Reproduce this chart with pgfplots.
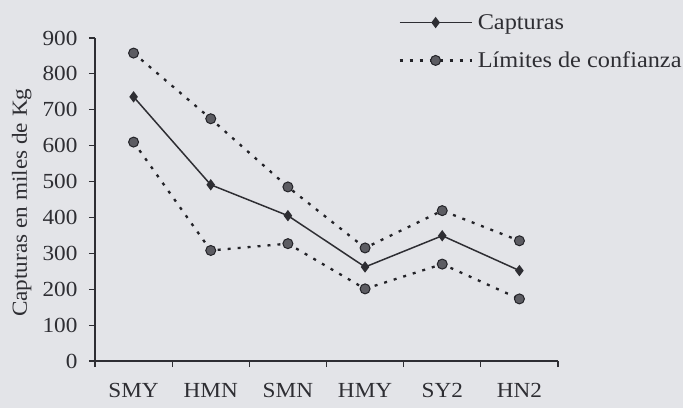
\documentclass[border=0pt]{standalone}
\usepackage{pgfplots}
\pgfplotsset{compat=1.18}
\usepackage{fontspec}
\setmainfont{Liberation Serif}[FakeStretch=1.08]
\definecolor{bg}{HTML}{E3E4E8}
\definecolor{ink}{HTML}{2E2E33}
\definecolor{dotc}{HTML}{232328}
\definecolor{circ}{HTML}{5C5C62}
\newcommand{\ff}{\fontsize{21.5}{25}\selectfont}
\newcommand{\fl}{\fontsize{22.5}{26}\selectfont}
\begin{document}
\begin{tikzpicture}[x=1pt,y=1pt]
\path[use as bounding box, fill=bg] (0,0) rectangle (683,408);
\begin{axis}[
  at={(95pt,47pt)}, anchor=south west,
  scale only axis, width=463pt, height=323pt,
  xmin=-0.5, xmax=5.5, ymin=0, ymax=900,
  axis lines=left,
  axis line style={-, ink, line width=1.2pt},
  tick style={ink, line width=1.1pt},
  tick align=outside, major tick length=6pt,
  ytick={0,100,...,900},
  xtick={-0.5,0.5,...,5.5}, xticklabels={},
  extra x ticks={0,1,2,3,4,5},
  extra x tick labels={SMY,HMN,SMN,HMY,SY2,HN2},
  extra x tick style={major tick length=0pt, tick style={draw=none}},
  /pgf/number format/assume math mode=true,
  tick label style={font=\ff, text=ink},
  yticklabel style={xshift=-8pt},
  xticklabel style={yshift=-19pt},
  ylabel={Capturas en miles de Kg},
  ylabel style={font=\ff, text=ink, at={(axis description cs:-0.158,0.49)}, anchor=center},
  legend style={draw=none, fill=none, font=\fl, text=ink,
    at={(axis description cs:0.655,1.08)}, anchor=north west,
    row sep=17pt, inner sep=0pt,
    /tikz/every even column/.append style={column sep=0pt},
    nodes={inner xsep=5pt}},
  legend cell align=left,
  legend image code/.code={\draw[mark repeat=2,mark phase=2,#1] plot coordinates {(0pt,0pt)(36pt,0pt)(72pt,0pt)};},
  clip=false,
]
\addplot[ink, line width=1.5pt, mark=diamond*, mark size=4.5pt, mark options={fill=ink, solid}]
  coordinates {(0,736)(1,491)(2,405)(3,262)(4,349)(5,252)};
\addlegendentry{Capturas}
\addplot[dotc, line width=2.3pt, dash pattern=on 3pt off 7pt, mark=*, mark size=5pt,
  mark options={solid, fill=circ, draw=dotc, line width=1pt}]
  coordinates {(0,858)(1,675)(2,485)(3,315)(4,419)(5,335)};
\addlegendentry{Límites de confianza}
\addplot[dotc, line width=2.3pt, dash pattern=on 3pt off 7pt, mark=*, mark size=5pt,
  mark options={solid, fill=circ, draw=dotc, line width=1pt}, forget plot]
  coordinates {(0,610)(1,308)(2,327)(3,201)(4,270)(5,173)};
\end{axis}
\end{tikzpicture}
\end{document}
